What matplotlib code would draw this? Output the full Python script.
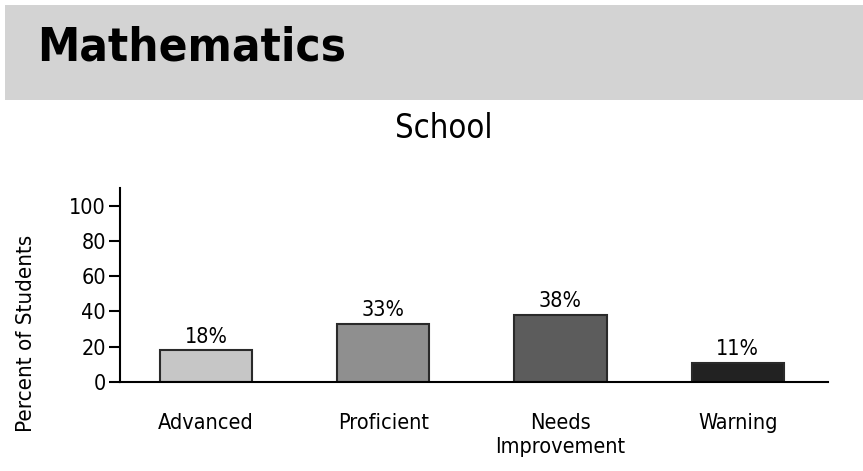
import matplotlib.pyplot as plt
from matplotlib.patches import Rectangle

categories = ['Advanced', 'Proficient', 'Needs\nImprovement', 'Warning']
percents = [18, 33, 38, 11]
bar_colors = ['#c6c6c6', '#8f8f8f', '#5c5c5c', '#222222']
y_ticks = [0, 20, 40, 60, 80, 100]

plt.rcParams['font.family'] = ['DejaVu Sans']
plt.rcParams['font.stretch'] = 'condensed'

fig = plt.figure(figsize=(8.63, 4.71), dpi=100)
W, H = 863, 471

# grey header band
fig.patches.append(Rectangle((5 / W, 1 - 100 / H), 1, 95 / H,
                             transform=fig.transFigure, facecolor='#d3d3d3',
                             edgecolor='none', zorder=0))
fig.text(37 / W, 1 - 48 / H, 'Mathematics', fontsize=34, fontweight='bold',
         va='center', ha='left')
fig.text(444 / W, 1 - 128 / H, 'School', fontsize=23.5, ha='center', va='center')

# axes: left 120px, right 828px, bottom(0) 382px, top 188px
ax = fig.add_axes([120 / W, 1 - 382 / H, 708 / W, 194 / H])
x = range(len(categories))
ax.bar(x, percents, width=0.52, color=bar_colors, edgecolor='#2a2a2a', linewidth=1.5)
for i, v in zip(x, percents):
    ax.text(i, v + 2, f'{v}%', ha='center', va='bottom', fontsize=15.5)

ax.set_xlim(-0.486, 3.51)
ax.set_ylim(0, 110)
ax.set_yticks(y_ticks)
ax.tick_params(axis='y', length=8, width=1.5, labelsize=15.5, pad=2)
ax.tick_params(axis='x', length=0, labelsize=15.5, pad=22)
ax.set_xticks(list(x))
ax.set_xticklabels(categories, linespacing=1.3)
for lab in ax.get_xticklabels():
    lab.set_verticalalignment('top')
ax.spines['top'].set_visible(False)
ax.spines['right'].set_visible(False)
ax.spines['left'].set_linewidth(1.5)
ax.spines['bottom'].set_linewidth(1.5)
ax.set_ylabel('Percent of Students', fontsize=16)
ax.yaxis.set_label_coords(-84 / 708, 0.25)

fig.savefig('out.png', dpi=100)
